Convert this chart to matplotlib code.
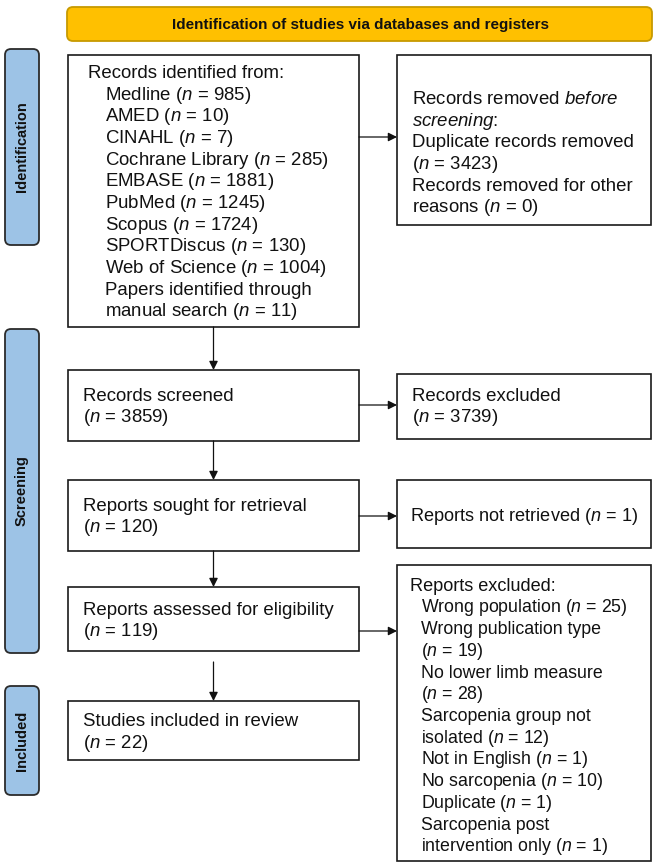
import matplotlib
matplotlib.use("Agg")
import matplotlib.pyplot as plt
from matplotlib.patches import Rectangle, FancyBboxPatch

plt.rcParams['font.family'] = ['Liberation Sans', 'DejaVu Sans']
plt.rcParams['mathtext.fontset'] = 'custom'
plt.rcParams['mathtext.rm'] = 'Liberation Sans'
plt.rcParams['mathtext.it'] = 'Liberation Sans:italic'

# --- data ---
databases = ["Medline", "AMED", "CINAHL", "Cochrane Library", "EMBASE",
             "PubMed", "Scopus", "SPORTDiscus", "Web of Science"]
database_n = [985, 10, 7, 285, 1881, 1245, 1724, 130, 1004]
manual_n = 11
duplicates_n = 3423
other_removed_n = 0
screened_n = 3859
records_excluded_n = 3739
sought_n = 120
not_retrieved_n = 1
assessed_n = 119
included_n = 22
exclusion_lines = ["Wrong population ($n$ = 25)", "Wrong publication type", "($n$ = 19)",
                   "No lower limb measure", "($n$ = 28)", "Sarcopenia group not",
                   "isolated ($n$ = 12)", "Not in English ($n$ = 1)",
                   "No sarcopenia ($n$ = 10)", "Duplicate ($n$ = 1)",
                   "Sarcopenia post", "intervention only ($n$ = 1)"]
stages = ["Identification", "Screening", "Included"]

W, H = 655, 864
fig = plt.figure(figsize=(W / 100, H / 100), dpi=100)
ax = fig.add_axes([0, 0, 1, 1])
ax.set_xlim(0, W)
ax.set_ylim(H, 0)
ax.axis('off')

FS = 13.4
STEP = 21.7
EDGE = '#1a1a1a'


def box(x0, y0, x1, y1):
    ax.add_patch(Rectangle((x0, y0), x1 - x0, y1 - y0, fill=False,
                           edgecolor=EDGE, linewidth=1.2))


def lines(x, y, items, step=STEP, fs=FS):
    # y is the vertical centre of the first line
    for i, s in enumerate(items):
        ax.text(x, y + i * step + 5.8, s, fontsize=fs, va='baseline', ha='left',
                color='#111111')


def arrow(x0, y0, x1, y1):
    ax.annotate('', xy=(x1, y1), xytext=(x0, y0),
                arrowprops=dict(arrowstyle='-|>', color='#111111', lw=0.9,
                                mutation_scale=13, shrinkA=0, shrinkB=0))


def stage_label(y0, y1, name):
    ax.add_patch(FancyBboxPatch((5, y0 + 4), 34, y1 - y0 - 8,
                                boxstyle='round,pad=0,rounding_size=6',
                                facecolor='#9dc3e6', edgecolor='#2b2b2b', linewidth=1.3))
    ax.text(22, (y0 + y1) / 2, name, rotation=90, ha='center', va='center',
            fontsize=10.5, fontweight='bold', color='#111111')


# banner
ax.add_patch(FancyBboxPatch((67, 7), 585, 34,
                            boxstyle='round,pad=0,rounding_size=6',
                            facecolor='#ffc000', edgecolor='#c79a00', linewidth=1.3))
ax.text(360, 24.5, "Identification of studies via databases and registers",
        ha='center', va='center', fontsize=11, fontweight='bold', color='#111111')

# stage labels
for name, (y0, y1) in zip(stages, [(45, 249), (325, 657), (682, 799)]):
    stage_label(y0, y1, name)

LX0, LX1 = 68, 359
RX0, RX1 = 397, 651
CX = (LX0 + LX1) / 2

# identification
box(LX0, 55, LX1, 327)
lines(88, 72, ["Records identified from:"])
db_lines = [f"{d} ($n$ = {n})" for d, n in zip(databases, database_n)]
db_lines += ["Papers identified through", f"manual search ($n$ = {manual_n})"]
lines(105, 72 + STEP, db_lines)

box(RX0, 55, RX1, 225)
lines(412, 98, ["Records removed $\\mathit{before}$",
                "$\\mathit{screening}$:",
                "Duplicate records removed",
                f"($n$ = {duplicates_n})",
                "Records removed for other",
                f"reasons ($n$ = {other_removed_n})"])
arrow(LX1, 137, RX0, 137)
arrow(CX, 327, CX, 370)

# screening
box(LX0, 370, LX1, 441)
lines(83, 395, ["Records screened", f"($n$ = {screened_n})"])
box(RX0, 374, RX1, 439)
lines(412, 395, ["Records excluded", f"($n$ = {records_excluded_n})"])
arrow(LX1, 405, RX0, 405)
arrow(CX, 441, CX, 480)

box(LX0, 480, LX1, 551)
lines(83, 505, ["Reports sought for retrieval", f"($n$ = {sought_n})"])
box(RX0, 480, RX1, 548)
lines(410, 515, [f"Reports not retrieved ($n$ = {not_retrieved_n})"], fs=13.1)
arrow(LX1, 516, RX0, 516)
arrow(CX, 551, CX, 587)

box(LX0, 587, LX1, 651)
lines(83, 609, ["Reports assessed for eligibility", f"($n$ = {assessed_n})"])
box(RX0, 565, RX1, 861)
lines(410, 585, ["Reports excluded:"], fs=13.1)
lines(421, 585 + STEP, exclusion_lines, fs=12.8)
arrow(LX1, 631, RX0, 631)
arrow(CX, 662, CX, 701)

# included
box(LX0, 701, LX1, 760)
lines(83, 720, ["Studies included in review", f"($n$ = {included_n})"])

fig.savefig("out.png", dpi=100, facecolor='white')
